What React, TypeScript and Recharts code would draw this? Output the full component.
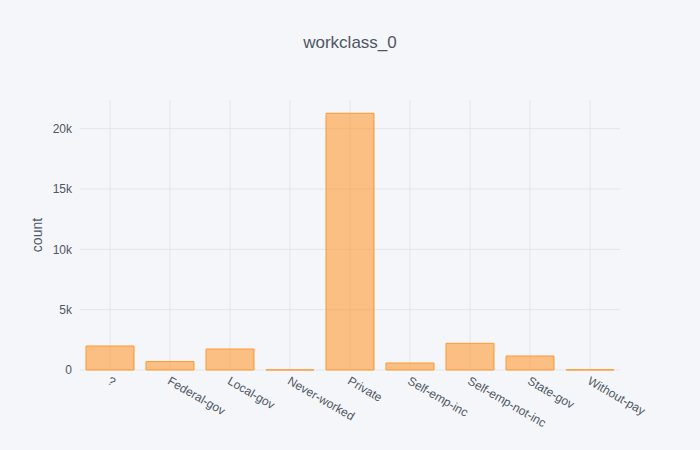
import { BarChart, Bar, XAxis, YAxis, CartesianGrid } from "recharts";

const categories = [
  "?",
  "Federal-gov",
  "Local-gov",
  "Never-worked",
  "Private",
  "Self-emp-inc",
  "Self-emp-not-inc",
  "State-gov",
  "Without-pay",
];
const counts = [1990, 700, 1740, 10, 21280, 580, 2210, 1160, 20];
const yTicks = [0, 5000, 10000, 15000, 20000];
const yMax = 22380;

const data = categories.map((name, i) => ({ name, count: counts[i] }));

const FONT = "'Liberation Sans', Arial, sans-serif";
const TEXT = "#4D5663";

function XTick({ x, y, payload }: any) {
  const tx = x + 1;
  const ty = y - 2;
  return (
    <text
      x={tx}
      y={ty}
      dy="0.71em"
      transform={`rotate(30, ${tx}, ${ty})`}
      textAnchor="start"
      fill={TEXT}
      fontSize={12}
      fontFamily={FONT}
    >
      {payload.value}
    </text>
  );
}

export default function App() {
  return (
    <div
      style={{
        position: "absolute",
        left: 0,
        top: 0,
        width: 700,
        height: 450,
        background: "#F5F6F9",
        fontFamily: FONT,
      }}
    >
      <div
        style={{
          position: "absolute",
          top: 33,
          width: 700,
          textAlign: "center",
          fontSize: 17,
          color: TEXT,
        }}
      >
        workclass_0
      </div>
      <BarChart
        width={700}
        height={450}
        data={data}
        margin={{ top: 100, right: 80, bottom: 0, left: 0 }}
        barCategoryGap="10%"
      >
        <CartesianGrid
          stroke="#E1E5ED"
          strokeWidth={1}
          horizontalCoordinatesGenerator={({ offset }: any) =>
            yTicks.map((t) => offset.top + offset.height * (1 - t / yMax))
          }
          verticalCoordinatesGenerator={({ offset }: any) =>
            categories.map(
              (_, i) => offset.left + (offset.width * (i + 0.5)) / categories.length
            )
          }
        />
        <XAxis
          dataKey="name"
          interval={0}
          axisLine={false}
          tickLine={false}
          tick={<XTick />}
          height={80}
        />
        <YAxis
          width={80}
          domain={[0, yMax]}
          ticks={yTicks}
          axisLine={false}
          tickLine={false}
          tickFormatter={(v: number) => (v === 0 ? "0" : `${v / 1000}k`)}
          tick={{ fill: TEXT, fontSize: 12, fontFamily: FONT }}
          label={{
            content: ({ viewBox }: any) => (
              <text
                x={37}
                y={viewBox.y + viewBox.height / 2}
                transform={`rotate(-90, 37, ${viewBox.y + viewBox.height / 2})`}
                textAnchor="middle"
                dominantBaseline="central"
                fill={TEXT}
                fontSize={14}
                fontFamily={FONT}
              >
                count
              </text>
            ),
          }}
        />
        <Bar
          dataKey="count"
          fill="rgba(255,153,51,0.6)"
          stroke="rgba(255,153,51,1)"
          strokeWidth={1}
          isAnimationActive={false}
        />
      </BarChart>
    </div>
  );
}
